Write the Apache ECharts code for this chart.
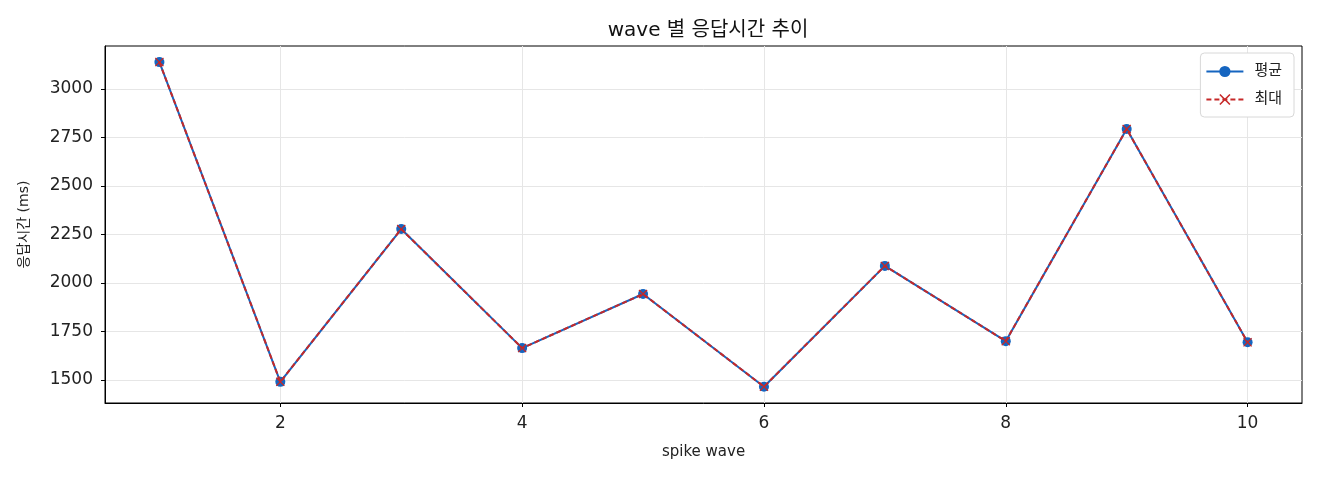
<!DOCTYPE html>
<html>
<head>
<meta charset="utf-8">
<script src="https://cdn.jsdelivr.net/npm/echarts@6/dist/echarts.min.js"></script>
<style>
  html, body { margin: 0; padding: 0; background: #fff; }
  #chart { width: 1320px; height: 480px; }
</style>
</head>
<body>
<div id="chart"></div>
<script>
// wave 번호와 응답시간 (ms)
var waves = [1, 2, 3, 4, 5, 6, 7, 8, 9, 10];
var avgValues = [3139, 1490, 2278, 1664, 1943, 1465, 2088, 1700, 2794, 1694];
var maxValues = [3139, 1490, 2278, 1664, 1943, 1465, 2088, 1700, 2794, 1694];
var xTicks = [2, 4, 6, 8, 10];
var yTicks = [1500, 1750, 2000, 2250, 2500, 2750, 3000];

var FONT = '"DejaVu Sans", "Noto Sans CJK KR", sans-serif';
var crossPath = 'path://M0,1L1,0L5,4L9,0L10,1L6,5L10,9L9,10L5,6L1,10L0,9L4,5Z';

function pairs(xs, ys) {
    return xs.map(function (x, i) { return [x, ys[i]]; });
}
function plain(v) { return String(v); }

var myChart = echarts.init(document.getElementById('chart'));
var option = {
    animation: false,
    backgroundColor: '#fff',
    textStyle: { fontFamily: FONT },
    title: {
        text: 'wave 별 응답시간 추이',
        left: 703,
        textAlign: 'center',
        top: 16,
        textStyle: { fontFamily: FONT, fontSize: 20, fontWeight: 'normal', color: '#111' }
    },
    legend: {
        orient: 'vertical',
        right: 26,
        top: 53,
        itemWidth: 37,
        itemHeight: 14,
        itemGap: 13,
        padding: [11, 12, 10, 5],
        borderColor: '#d8d8d8',
        borderWidth: 1,
        borderRadius: 4,
        backgroundColor: '#fff',
        textStyle: { fontFamily: FONT, fontSize: 15, color: '#222', padding: [0, 0, 0, 6] },
        data: ['평균', '최대']
    },
    grid: {
        left: 105,
        right: 18,
        top: 46,
        bottom: 77,
        show: true,
        borderColor: '#000',
        borderWidth: 1
    },
    xAxis: {
        type: 'value',
        min: 0.55,
        max: 10.45,
        name: 'spike wave',
        nameLocation: 'middle',
        nameGap: 42,
        nameTextStyle: { fontFamily: FONT, fontSize: 15, color: '#222' },
        axisLine: { lineStyle: { color: '#000' } },
        axisTick: { length: 4, lineStyle: { color: '#000' }, customValues: xTicks },
        axisLabel: { fontSize: 17, color: '#222', margin: 12, customValues: xTicks, formatter: plain },
        splitLine: { show: true, lineStyle: { color: '#e6e6e6' } }
    },
    yAxis: {
        type: 'value',
        min: 1381,
        max: 3222,
        name: '응답시간 (ms)',
        nameLocation: 'middle',
        nameGap: 74,
        nameTextStyle: { fontFamily: FONT, fontSize: 14, color: '#222' },
        axisLine: { show: true, lineStyle: { color: '#000' } },
        axisTick: { show: true, length: 4, lineStyle: { color: '#000' }, customValues: yTicks },
        axisLabel: { fontSize: 17, color: '#222', margin: 12, customValues: yTicks, formatter: plain },
        splitLine: { show: true, lineStyle: { color: '#e6e6e6' } }
    },
    series: [
        {
            name: '평균',
            type: 'line',
            data: pairs(waves, avgValues),
            symbol: 'circle',
            symbolSize: 10,
            itemStyle: { color: '#1565c0' },
            lineStyle: { color: '#1565c0', width: 2 },
            z: 2
        },
        {
            name: '최대',
            type: 'line',
            data: pairs(waves, maxValues),
            symbol: crossPath,
            symbolSize: 9,
            itemStyle: { color: '#c62828' },
            lineStyle: { color: '#c62828', width: 2, type: [5, 3] },
            z: 3
        }
    ]
};
myChart.setOption(option);
</script>
</body>
</html>
